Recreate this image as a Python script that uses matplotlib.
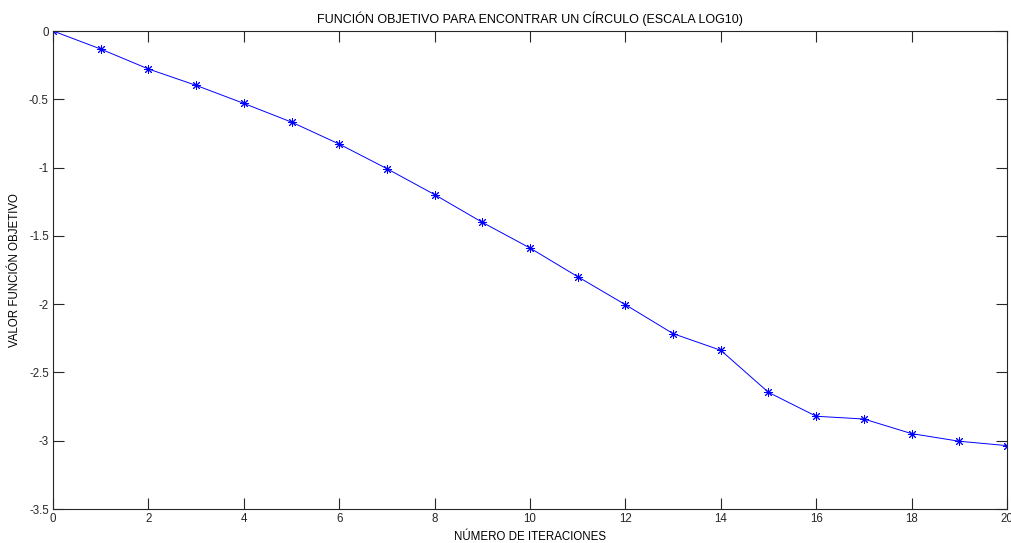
import numpy as np
import matplotlib
matplotlib.use("Agg")
import matplotlib.pyplot as plt

# datos (log10 de la funcion objetivo)
iteraciones = list(range(0, 21))
valores = [0.0, -0.132, -0.278, -0.398, -0.530, -0.667, -0.828, -1.008, -1.198,
           -1.401, -1.589, -1.799, -2.004, -2.216, -2.338, -2.646, -2.821,
           -2.841, -2.948, -3.004, -3.036]
xticks = [0, 2, 4, 6, 8, 10, 12, 14, 16, 18, 20]
yticks = [0, -0.5, -1, -1.5, -2, -2.5, -3, -3.5]
ytick_labels = ["0", "-0.5", "-1", "-1.5", "-2", "-2.5", "-3", "-3.5"]

plt.rcParams['font.family'] = ['Liberation Sans', 'DejaVu Sans']
plt.rcParams['font.size'] = 8.3

fig = plt.figure(figsize=(10.12, 5.43), dpi=100)
ax = fig.add_axes([53 / 1012, 34 / 543, 954 / 1012, 478 / 543])

# marcador tipo asterisco como en matlab
ax.plot(iteraciones, valores, color='#0000ff', linewidth=0.7,
        marker=(8, 2, 0), markersize=6.5, markeredgewidth=0.7)

ax.set_xlim(0, 20)
ax.set_ylim(-3.5, 0)
ax.set_xticks(xticks)
ax.set_yticks(yticks)
ax.set_yticklabels(ytick_labels)
ax.tick_params(direction='in', length=8, width=0.8, top=True, right=True,
               colors='#262626', labelcolor='#262626', pad=3)
for s in ax.spines.values():
    s.set_linewidth(0.8)
    s.set_color('#262626')

ax.set_title('FUNCIÓN OBJETIVO PARA ENCONTRAR UN CÍRCULO (ESCALA LOG10)',
             fontsize=9, pad=6)
ax.set_xlabel('NÚMERO DE ITERACIONES', fontsize=8.3, labelpad=4)
ax.set_ylabel('VALOR FUNCIÓN OBJETIVO', fontsize=8.3)
ax.yaxis.set_label_coords(-0.034, 0.5)

fig.savefig('out.png', dpi=100)
